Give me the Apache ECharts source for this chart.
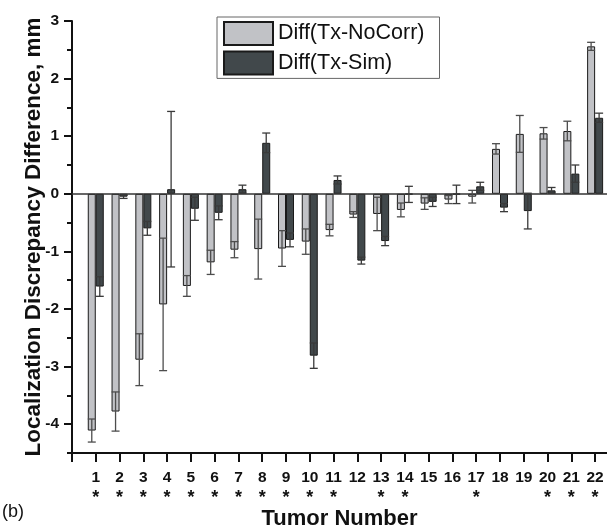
<!DOCTYPE html>
<html>
<head>
<meta charset="utf-8">
<script src="https://cdn.jsdelivr.net/npm/echarts@6/dist/echarts.min.js"></script>
<style>html,body{margin:0;padding:0;background:#fff}#c{width:607px;height:529px}</style>
</head>
<body>
<div id="c"></div>
<script>
// ---- data ----
const tumors = [1,2,3,4,5,6,7,8,9,10,11,12,13,14,15,16,17,18,19,20,21,22];
const significant = [1,2,3,4,5,6,7,8,9,10,11,13,14,17,20,21,22];
const noCorr    = [-4.11,-3.78,-2.88,-1.92,-1.60,-1.19,-0.97,-0.96,-0.95,-0.83,-0.63,-0.36,-0.35,-0.28,-0.17,-0.10,-0.05,0.78,1.04,1.05,1.09,2.56];
const noCorrErr = [0.20,0.34,0.45,1.15,0.18,0.21,0.14,0.52,0.31,0.22,0.10,0.05,0.29,0.12,0.10,0.07,0.11,0.09,0.32,0.10,0.17,0.07];
const sim       = [-1.61,-0.05,-0.60,0.08,-0.26,-0.33,0.08,0.885,-0.80,-2.81,0.24,-1.16,-0.82,-0.01,-0.14,-0.01,0.13,-0.24,-0.30,0.06,0.35,1.32];
const simErr    = [0.17,0.03,0.12,1.35,0.20,0.12,0.07,0.17,0.12,0.22,0.07,0.06,0.08,0.14,0.08,0.16,0.07,0.07,0.31,0.05,0.15,0.08];
const yTicks = [-4,-3,-2,-1,0,1,2,3];
const xTicks = [0].concat(tumors);
const seriesNames = ['Diff(Tx-NoCorr)','Diff(Tx-Sim)'];

// ---- styling ----
const FONT = 'Liberation Sans, Arial, Helvetica, sans-serif';
const BAR_W = 8;
const LIGHT = '#c1c2c6', DARK = '#41484b';

function errRenderer(sign, color){
  return function(params, api){
    const x = api.value(0), y = api.value(1), e = api.value(2);
    const hi = api.coord([x, y + e]);
    const lo = api.coord([x, y - e]);
    const cx = hi[0] + sign * BAR_W / 2;
    const h = BAR_W / 2;
    const st = {stroke: color, lineWidth: 1.3};
    return {type:'group', children:[
      {type:'line', shape:{x1:cx, y1:hi[1], x2:cx, y2:lo[1]}, style:st},
      {type:'line', shape:{x1:cx-h, y1:hi[1], x2:cx+h, y2:hi[1]}, style:st},
      {type:'line', shape:{x1:cx-h, y1:lo[1], x2:cx+h, y2:lo[1]}, style:st}
    ]};
  };
}

const chart = echarts.init(document.getElementById('c'), null, {renderer:'canvas'});
chart.setOption({
  animation:false,
  backgroundColor:'#fff',
  textStyle:{fontFamily:FONT},
  grid:{left:72, right:0, top:21, bottom:76, containLabel:false, outerBoundsMode:'none'},
  legend:{
    data:seriesNames, orient:'vertical', left:217, top:17,
    icon:'rect', itemWidth:49, itemHeight:23, itemGap:4.4,
    padding:[4,15,3,6], borderColor:'#666', borderWidth:1,
    textStyle:{fontSize:21.5, color:'#111', fontFamily:FONT}
  },
  xAxis:{
    type:'value', min:0, max:22.5, interval:1,
    name:'Tumor Number', nameLocation:'middle', nameGap:55, nameMoveOverlap:false,
    nameTextStyle:{fontSize:22, fontWeight:'bold', color:'#111', fontFamily:FONT},
    axisLine:{onZero:false, lineStyle:{color:'#111', width:2}},
    axisTick:{customValues:xTicks, length:9, lineStyle:{color:'#111', width:2}},
    axisLabel:{
      customValues:tumors, margin:15, color:'#111', fontSize:15.5, fontWeight:'bold', lineHeight:20,
      formatter:function(v){ return v + '\n' + (significant.indexOf(v) >= 0 ? '{s|*}' : ' '); },
      rich:{s:{fontSize:18, fontWeight:'bold', color:'#111', lineHeight:20}}
    },
    splitLine:{show:false}
  },
  yAxis:[{
    type:'value', min:-4.5, max:3, position:'left',
    name:'Localization Discrepancy Difference, mm', nameLocation:'middle', nameGap:27, nameMoveOverlap:false,
    nameTextStyle:{fontSize:22.5, fontWeight:'bold', color:'#111', fontFamily:FONT},
    axisLine:{show:true, lineStyle:{color:'#111', width:2}},
    axisTick:{customValues:yTicks, length:8, lineStyle:{color:'#111', width:2}},
    axisLabel:{customValues:yTicks, margin:13, color:'#111', fontSize:15.5, fontWeight:'bold'},
    splitLine:{show:false}
  },{
    type:'value', min:-4.5, max:3, interval:0.5, position:'left', offset:0,
    axisLine:{show:false},
    axisTick:{show:true, length:5, lineStyle:{color:'#111', width:2}},
    axisLabel:{show:false},
    splitLine:{show:false}
  }],
  series:[
    {
      name:seriesNames[0], type:'bar', barWidth:BAR_W, barGap:'0%',
      data:tumors.map((t,i)=>[t, noCorr[i]]),
      itemStyle:{color:LIGHT, borderColor:'#1a1a1a', borderWidth:1},
      markLine:{silent:true, symbol:'none', label:{show:false},
        lineStyle:{color:'#333', width:1.5, type:'solid'}, data:[{yAxis:0}]}
    },
    {
      name:seriesNames[1], type:'bar', barWidth:BAR_W, barGap:'0%',
      data:tumors.map((t,i)=>[t, sim[i]]),
      itemStyle:{color:DARK, borderColor:'#1a1a1a', borderWidth:1}
    },
    {
      type:'custom', name:'errNoCorr', z:5,
      data:tumors.map((t,i)=>[t, noCorr[i], noCorrErr[i]]),
      encode:{x:0, y:1},
      renderItem:errRenderer(-1, '#4d4d4d')
    },
    {
      type:'custom', name:'errSim', z:5,
      data:tumors.map((t,i)=>[t, sim[i], simErr[i]]),
      encode:{x:0, y:1},
      renderItem:errRenderer(1, '#3a3a3a')
    }
  ],
  graphic:[{type:'text', left:2, top:503, style:{text:'(b)', fontSize:18, fill:'#111', fontFamily:FONT}}]
});
</script>
</body>
</html>
